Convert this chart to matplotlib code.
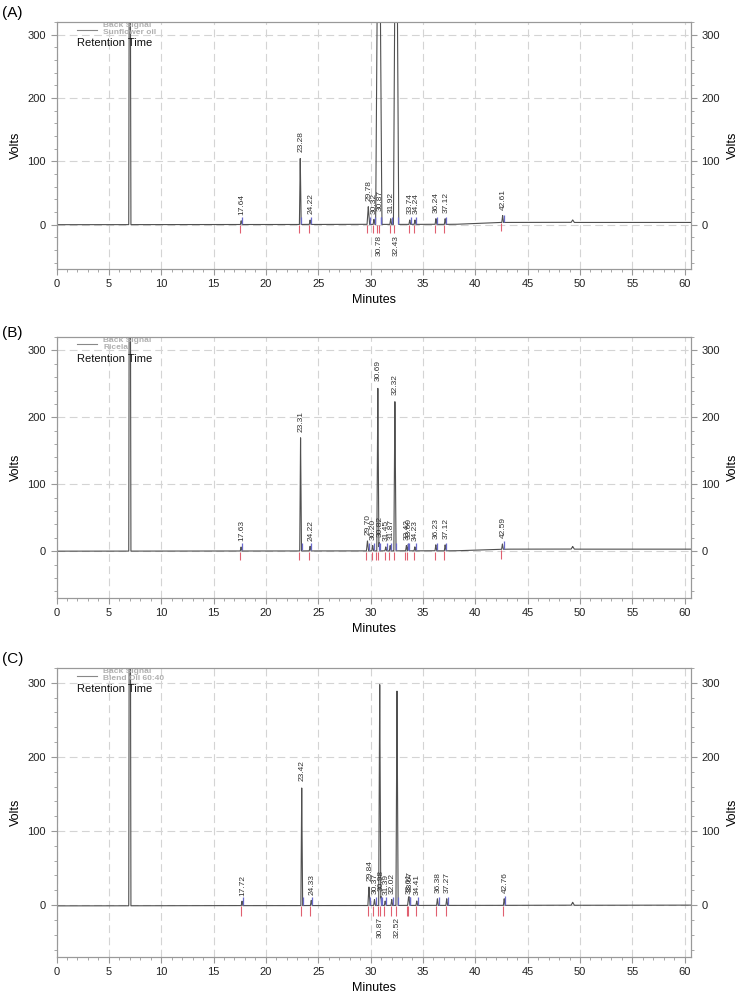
import numpy as np
import matplotlib
matplotlib.use('Agg')
import matplotlib.pyplot as plt
from matplotlib.ticker import MultipleLocator

plt.rcParams['font.family'] = ['Liberation Sans', 'DejaVu Sans']

# ---- data ----
# (A) Sunflower oil
A_rt = [17.64, 23.28, 24.22, 29.78, 30.32, 30.78, 30.87, 31.92, 32.43, 33.74, 34.24, 36.24, 37.12, 42.61]
A_height = [6, 105, 7, 28, 8, 700, 12, 9, 700, 7, 7, 9, 9, 11]
A_width = [0.08, 0.08, 0.08, 0.12, 0.08, 0.3, 0.06, 0.08, 0.25, 0.08, 0.08, 0.08, 0.08, 0.08]
A_below = [30.78, 32.43]
A_base_t = [0, 38, 42.5, 60.6]
A_base_v = [0, 0.5, 3.5, 3.5]

# (B) Ricela
B_rt = [17.63, 23.31, 24.22, 29.70, 30.20, 30.69, 30.82, 31.45, 31.87, 32.32, 33.42, 33.60, 34.23, 36.23, 37.12, 42.59]
B_height = [6, 170, 7, 15, 8, 245, 12, 6, 8, 225, 8, 10, 6, 9, 9, 8]
B_width = [0.08, 0.08, 0.08, 0.1, 0.08, 0.1, 0.06, 0.08, 0.08, 0.1, 0.08, 0.08, 0.08, 0.08, 0.08, 0.08]
B_below = []
B_base_t = [0, 38, 43, 60.6]
B_base_v = [0, 0.5, 3, 3]

# (C) Blend Oil 60:40
C_rt = [17.72, 23.42, 24.33, 29.84, 30.37, 30.87, 30.98, 31.39, 32.02, 32.52, 33.61, 33.67, 34.41, 36.38, 37.27, 42.76]
C_height = [6, 160, 7, 25, 8, 300, 12, 6, 8, 292, 8, 10, 6, 9, 9, 9]
C_width = [0.08, 0.08, 0.08, 0.1, 0.08, 0.1, 0.06, 0.08, 0.08, 0.1, 0.08, 0.08, 0.08, 0.08, 0.08, 0.08]
C_below = [30.87, 32.52]
C_base_t = [0, 30, 60.6]
C_base_v = [-1, -0.5, 0]

# peaks shared by all runs (solvent peak, late bump)
solvent_rt, solvent_height = 7.0, 900
bump_rt, bump_height = 49.3, 4

panel_tags = ['(A)', '(B)', '(C)']
sample_names = ['Sunflower oil', 'Ricela', 'Blend Oil 60:40']

W, H = 741, 994
LEFT, RIGHT = 56.5, 691
boxes = [(22, 269), (337, 598), (668, 957)]   # axes top / bottom in pixels
tag_y = [13, 333, 659]

TRACE = '#505050'
RED = '#e06070'
BLUE = '#6a6acc'
GRID = '#d4d4d4'
SPINE = '#999999'

fig = plt.figure(figsize=(W / 100, H / 100), dpi=100)

panels = [
    (A_rt, A_height, A_width, A_below, A_base_t, A_base_v),
    (B_rt, B_height, B_width, B_below, B_base_t, B_base_v),
    (C_rt, C_height, C_width, C_below, C_base_t, C_base_v),
]

t = np.linspace(0, 60.6, 30000)

for i, (rt, hgt, wid, below, bt, bv) in enumerate(panels):
    top, bottom = boxes[i]
    hpx = bottom - top
    ax = fig.add_axes([LEFT / W, 1 - bottom / H, (RIGHT - LEFT) / W, hpx / H])

    # build the trace from the peak list
    base = np.interp(t, bt, bv)
    y = base.copy()
    for r, h, w in zip(rt + [solvent_rt, bump_rt], hgt + [solvent_height, bump_height],
                       wid + [0.1, 0.15]):
        y += h * np.clip(1 - np.abs(t - r) / w, 0, None)
    ax.plot(t, y, color=TRACE, lw=0.8, zorder=3)

    # integration marks and labels
    for r, h, w in zip(rt, hgt, wid):
        b0 = np.interp(r, bt, bv)
        off = min(w, 0.15) + 0.03
        ax.vlines(r - off, b0 - 14, b0 - 1, color=RED, lw=0.8, zorder=4)
        ax.vlines(r + off, b0 + 1, b0 + 12, color=BLUE, lw=0.9, zorder=4)
        if r in below:
            ax.annotate(f'{r:.2f}', xy=(r, -16), rotation=90, ha='center', va='top',
                        fontsize=6, color='#333333')
        else:
            ax.annotate(f'{r:.2f}', xy=(r, b0 + h), xytext=(0.5, 4), textcoords='offset points',
                        rotation=90, ha='center', va='bottom', fontsize=6, color='#333333')

    ax.set_xlim(0, 60.6)
    ax.set_ylim(-70, 320)
    ax.xaxis.set_major_locator(MultipleLocator(5))
    ax.xaxis.set_minor_locator(MultipleLocator(1))
    ax.yaxis.set_major_locator(MultipleLocator(100))
    ax.yaxis.set_minor_locator(MultipleLocator(20))
    ax.grid(True, which='major', color=GRID, ls=(0, (7, 4)), lw=0.8, zorder=0)
    ax.tick_params(which='both', direction='out', labelsize=8, color=SPINE, labelcolor='#222222')
    ax.tick_params(which='major', length=4)
    ax.tick_params(which='minor', length=2)
    for s in ax.spines.values():
        s.set_color(SPINE)
        s.set_linewidth(0.8)
    ax.set_xlabel('Minutes', fontsize=9, labelpad=3)
    ax.set_ylabel('Volts', fontsize=9, labelpad=4)

    ax2 = ax.twinx()
    ax2.set_ylim(ax.get_ylim())
    ax2.yaxis.set_major_locator(MultipleLocator(100))
    ax2.yaxis.set_minor_locator(MultipleLocator(20))
    ax2.tick_params(which='both', direction='out', labelsize=8, color=SPINE, labelcolor='#222222')
    ax2.tick_params(which='major', length=4)
    ax2.tick_params(which='minor', length=2)
    for s in ax2.spines.values():
        s.set_color(SPINE)
        s.set_linewidth(0.8)
    ax2.set_ylabel('Volts', fontsize=9, labelpad=5)

    # legend block in the upper-left corner
    def fy(dy):
        return 1 - dy / hpx
    x0 = (77 - LEFT) / (RIGHT - LEFT)
    x1 = (97 - LEFT) / (RIGHT - LEFT)
    xt = (103 - LEFT) / (RIGHT - LEFT)
    ax.plot([x0, x1], [fy(7.5), fy(7.5)], transform=ax.transAxes, color='#888888', lw=0.8)
    ax.text(xt, fy(3.5), 'Back Signal', transform=ax.transAxes, fontsize=6,
            color='#b0b0b0', va='center', ha='left', fontweight='bold')
    ax.text(xt, fy(10.5), sample_names[i], transform=ax.transAxes, fontsize=6,
            color='#b0b0b0', va='center', ha='left', fontweight='bold')
    ax.text(x0, fy(21.5), 'Retention Time', transform=ax.transAxes, fontsize=8,
            color='#111111', va='center', ha='left')

    fig.text(2 / W, 1 - tag_y[i] / H, panel_tags[i], fontsize=11, va='center', ha='left')

fig.savefig('out.png', dpi=100)
